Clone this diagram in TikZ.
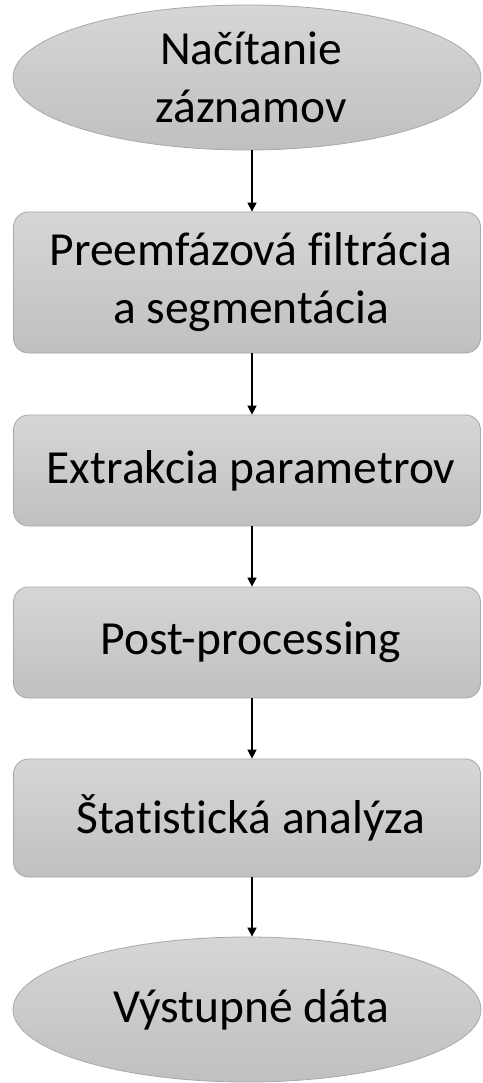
\documentclass[tikz,border=0pt]{standalone}
\usepackage{fontspec}
\setmainfont[Ligatures=CommonOff]{Carlito}
\usetikzlibrary{shapes.geometric,arrows.meta}
\definecolor{filltop}{HTML}{D6D6D6}
\definecolor{fillbot}{HTML}{C0C0C0}
\definecolor{edge}{HTML}{A8A8A8}
\tikzset{
  txt/.style={font=\fontsize{47.5}{58}\selectfont, align=center, text=black, xshift=4pt, inner sep=0pt},
  procbox/.style={draw=edge, line width=0.8pt, rounded corners=15pt,
    top color=filltop, bottom color=fillbot, minimum width=467pt, inner sep=0pt},
  termnode/.style={ellipse, draw=edge, line width=0.8pt,
    top color=filltop, bottom color=fillbot, minimum width=468pt, minimum height=145pt, inner sep=0pt},
  flow/.style={line width=1.5pt, -{Triangle[width=9pt,length=9pt]}}
}
\begin{document}
\begin{tikzpicture}[x=1pt,y=-1pt]
\useasboundingbox (0,0) rectangle (482,1083);
\node[termnode, label={[txt]center:Načítanie\\záznamov}] (n1) at (247,77.5) {};
\node[procbox, minimum height=141pt, label={[txt]center:Preemfázová filtrácia\\a segmentácia}] (n2) at (247,282.5) {};
\node[procbox, minimum height=111pt, label={[txt]center:Extrakcia parametrov}] (n3) at (247,470.5) {};
\node[procbox, minimum height=111pt, label={[txt]center:Post-processing}] (n4) at (247,642.5) {};
\node[procbox, minimum height=118pt, label={[txt]center:Štatistická analýza}] (n5) at (247,818) {};
\node[termnode, label={[txt]center:Výstupné dáta}] (n6) at (247,1009.5) {};
\draw[flow] ([xshift=5pt]n1.south) -- ([xshift=5pt]n2.north);
\draw[flow] ([xshift=5pt]n2.south) -- ([xshift=5pt]n3.north);
\draw[flow] ([xshift=5pt]n3.south) -- ([xshift=5pt]n4.north);
\draw[flow] ([xshift=5pt]n4.south) -- ([xshift=5pt]n5.north);
\draw[flow] ([xshift=5pt]n5.south) -- ([xshift=5pt]n6.north);
\end{tikzpicture}
\end{document}
